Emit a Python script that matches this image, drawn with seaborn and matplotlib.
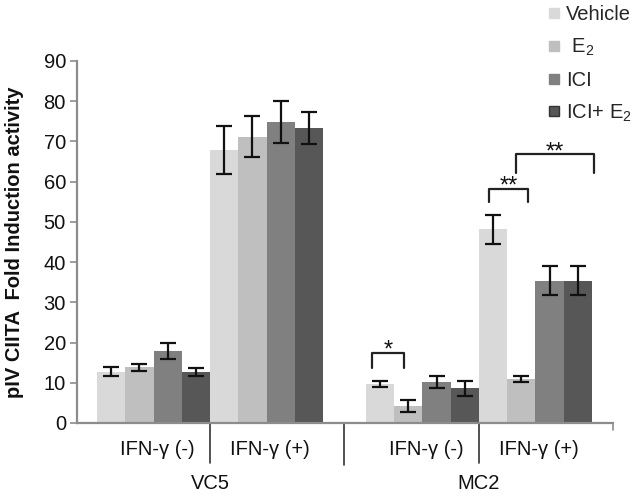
import matplotlib
matplotlib.use("agg")
import matplotlib.pyplot as plt
import matplotlib.transforms as mtransforms
from matplotlib.lines import Line2D
import numpy as np
import pandas as pd
import seaborn as sns

# Data
groups = ["VC5 (-)", "VC5 (+)", "MC2 (-)", "MC2 (+)"]
group_pos = [0.0, 1.0, 2.38, 3.38]
ifn_labels = ["IFN-γ (-)", "IFN-γ (+)", "IFN-γ (-)", "IFN-γ (+)"]
cell_lines = ["VC5", "MC2"]
treatments = ["Vehicle", "E2", "ICI", "ICI+E2"]
legend_labels = ["Vehicle", " E$_2$", "ICI", "ICI+ E$_2$"]

vehicle = [12.8, 67.9, 9.7, 48.2]
e2 = [13.8, 71.2, 4.2, 10.9]
ici = [18.0, 74.8, 10.1, 35.4]
ici_e2 = [12.6, 73.4, 8.6, 35.4]

vehicle_se = [1.1, 6.0, 0.7, 3.6]
e2_se = [0.8, 5.1, 1.4, 0.7]
ici_se = [2.0, 5.3, 1.5, 3.6]
ici_e2_se = [1.0, 4.0, 1.8, 3.6]

colors = ["#d9d9d9", "#bfbfbf", "#808080", "#575757"]

# significance brackets: (group, bar a, bar b, top, left leg, right leg, label)
brackets = [
    (2, 0, 1, 17.5, 13.7, 13.7, "*"),
    (3, 0, 1, 58.2, 54.9, 54.9, "**"),
    (3, 1, 3, 66.8, 62.2, 62.2, "**"),
]

values = [vehicle, e2, ici, ici_e2]
errors = [vehicle_se, e2_se, ici_se, ici_e2_se]
rows = []
for t, vals, errs in zip(treatments, values, errors):
    for g, p, v, e in zip(groups, group_pos, vals, errs):
        rows.append({"group": g, "pos": p, "treatment": t, "value": v, "se": e})
df = pd.DataFrame(rows)

sns.set_theme(style="white")
plt.rcParams["font.family"] = ["Liberation Sans", "DejaVu Sans"]
plt.rcParams["mathtext.fontset"] = "custom"
plt.rcParams["mathtext.rm"] = "Liberation Sans"
plt.rcParams["mathtext.it"] = "Liberation Sans"

fig = plt.figure(figsize=(6.38, 4.97), dpi=100)
ax = fig.add_axes([0.1207, 0.1489, 0.8401, 0.7284])

sns.barplot(data=df, x="pos", y="value", hue="treatment", hue_order=treatments,
            native_scale=True, width=1.0, palette=colors, saturation=1,
            errorbar=None, legend=False, linewidth=0, ax=ax)

# error bars at the bar centres drawn by seaborn
centers = {}
for bar in ax.patches:
    if bar is None or bar.get_height() <= 0:
        continue
    cx = bar.get_x() + bar.get_width() / 2
    j = int(np.argmin([abs(cx - p) for p in group_pos]))
    i = int(round((cx - group_pos[j]) / bar.get_width() + 1.5))
    centers[(j, i)] = cx
    ax.errorbar(cx, values[i][j], yerr=errors[i][j], fmt="none", ecolor="#111111",
                elinewidth=1.6, capsize=5.5, capthick=1.6, zorder=5)

bw = 0.25
offsets = {(2, 0, 1): (-0.27, -0.14), (3, 0, 1): (-0.14, 0.23), (3, 1, 3): (-0.2, 0.57)}
for g, a, b, top, la, lb, label in brackets:
    da, db = offsets[(g, a, b)]
    xa = centers[(g, a)] + da * bw
    xb = centers[(g, b)] + db * bw
    ax.plot([xa, xa, xb, xb], [la, top, top, lb], color="#222222", lw=1.6, zorder=6)
    ax.text((xa + xb) / 2, top - 1.0, label, ha="center", va="baseline",
            fontsize=17, color="#111111")

ax.set_xlim(-0.677, 4.066)
ax.set_ylim(0, 90)
ax.set_yticks(range(0, 91, 10))
ax.set_xticks([])
ax.set_xlabel("")
ax.tick_params(axis="y", which="both", left=True, length=5, width=1.2,
               color="#8c8c8c", labelsize=14.5, pad=3, labelcolor="#111111")
for side in ["top", "right"]:
    ax.spines[side].set_visible(False)
for side in ["left", "bottom"]:
    ax.spines[side].set_color("#8c8c8c")
    ax.spines[side].set_linewidth(1.6)

ax.set_ylabel("pIV CIITA  Fold Induction activity", fontsize=14.5, fontweight="bold",
              color="#111111")
ax.yaxis.set_label_coords(-0.099, 0.5)

# multi-level category axis
trans = mtransforms.blended_transform_factory(ax.transData, ax.transAxes)
seps = [(group_pos[0] + group_pos[1]) / 2,
        (group_pos[1] + group_pos[2]) / 2,
        (group_pos[2] + group_pos[3]) / 2]
sep_len = [0.11, 0.117, 0.11]
for s, L in zip(seps, sep_len):
    ax.plot([s, s], [0, -L], color="#333333", lw=1.2, transform=trans, clip_on=False)
ax.plot([4.066, 4.066], [0, -0.02], color="#8c8c8c", lw=1.2, transform=trans, clip_on=False)

for p, lab in zip(group_pos, ifn_labels):
    ax.text(p + 0.03, -0.072, lab, transform=trans, ha="center", va="center",
            fontsize=14.5, color="#111111")
for k, name in enumerate(cell_lines):
    mid = (group_pos[2 * k] + group_pos[2 * k + 1]) / 2
    ax.text(mid, -0.166, name, transform=trans, ha="center", va="center",
            fontsize=14.5, color="#111111")

handles = [Line2D([], [], marker="s", ls="", markersize=7, markerfacecolor=c,
                  markeredgecolor=("#333333" if i == 3 else c))
           for i, c in enumerate(colors)]
fig.legend(handles, legend_labels, loc="upper left", bbox_to_anchor=(0.855, 0.993),
           frameon=False, fontsize=14.5, handlelength=0.6, handletextpad=0.3,
           labelspacing=0.62, borderpad=0.1, borderaxespad=0)

fig.savefig("out.png", dpi=100)
